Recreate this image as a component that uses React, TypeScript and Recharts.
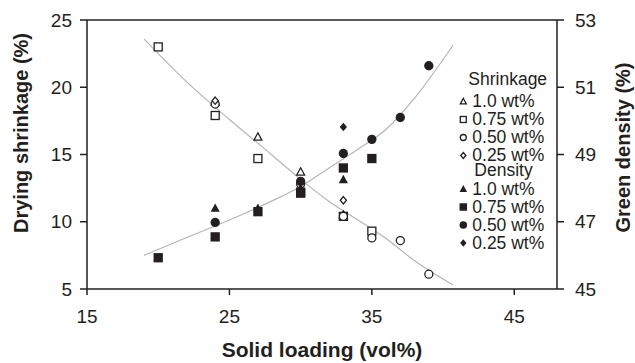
import React from 'react';
import { ComposedChart, Scatter, Line, XAxis, YAxis, Label, Legend, ReferenceLine } from 'recharts';

type Pt = { x: number; y: number };
type Kind = 'triangle' | 'square' | 'circle' | 'diamond';

// Axis ticks
const xTicks = [15, 25, 35, 45];
const shrinkageTicks = [5, 10, 15, 20, 25];
const densityTicks = [45, 47, 49, 51, 53];

// Drying shrinkage (%) vs solid loading (vol%)
const shrinkage10: Pt[] = [{ x: 24, y: 18.9 }, { x: 27, y: 16.3 }, { x: 30, y: 13.7 }, { x: 33, y: 10.5 }];
const shrinkage075: Pt[] = [{ x: 20, y: 23.0 }, { x: 24, y: 17.9 }, { x: 27, y: 14.7 }, { x: 30, y: 12.2 }, { x: 33, y: 10.4 }, { x: 35, y: 9.3 }];
const shrinkage050: Pt[] = [{ x: 24, y: 18.75 }, { x: 30, y: 12.8 }, { x: 33, y: 10.4 }, { x: 35, y: 8.8 }, { x: 37, y: 8.6 }, { x: 39, y: 6.1 }];
const shrinkage025: Pt[] = [{ x: 24, y: 19.0 }, { x: 33, y: 11.6 }];

// Green density (%) vs solid loading (vol%)
const density10: Pt[] = [{ x: 24, y: 47.4 }, { x: 27, y: 47.4 }, { x: 30, y: 48.0 }, { x: 33, y: 48.25 }];
const density075: Pt[] = [{ x: 20, y: 45.93 }, { x: 24, y: 46.55 }, { x: 27, y: 47.3 }, { x: 30, y: 47.85 }, { x: 33, y: 48.6 }, { x: 35, y: 48.88 }];
const density050: Pt[] = [{ x: 24, y: 46.98 }, { x: 30, y: 48.2 }, { x: 33, y: 49.03 }, { x: 35, y: 49.45 }, { x: 37, y: 50.1 }, { x: 39, y: 51.64 }];
const density025: Pt[] = [{ x: 33, y: 49.82 }];

// Trend curves
const shrinkageFit: Pt[] = [{ x: 19, y: 23.6 }, { x: 22, y: 20.4 }, { x: 25, y: 17.6 }, { x: 28, y: 14.95 }, { x: 30, y: 13.15 }, { x: 32, y: 11.5 }, { x: 34, y: 10.15 }, { x: 36, y: 8.75 }, { x: 38, y: 7.1 }, { x: 40.7, y: 5.3 }];
const densityFit: Pt[] = [{ x: 19, y: 46.0 }, { x: 22, y: 46.53 }, { x: 25, y: 47.05 }, { x: 28, y: 47.62 }, { x: 30, y: 48.05 }, { x: 32, y: 48.6 }, { x: 34, y: 49.15 }, { x: 36, y: 49.75 }, { x: 38, y: 50.68 }, { x: 40.7, y: 52.25 }];

const groupNames = ['Shrinkage', 'Density'];
const seriesLabels = ['1.0 wt%', '0.75 wt%', '0.50 wt%', '0.25 wt%'];

const INK = '#231f20';
const CURVE = '#b5b5b5';
const FONT = "'Liberation Sans', Arial, Helvetica, sans-serif";

interface SeriesDef { group: string; label: string; kind: Kind; filled: boolean; axis: 'left' | 'right'; data: Pt[]; size: number }

const kinds: Kind[] = ['triangle', 'square', 'circle', 'diamond'];
const sizes: Record<Kind, number> = { triangle: 9.2, square: 9.3, circle: 9.3, diamond: 8.6 };
const shrinkageData = [shrinkage10, shrinkage075, shrinkage050, shrinkage025];
const densityData = [density10, density075, density050, density025];

const seriesList: SeriesDef[] = [
  ...shrinkageData.map((d, i) => ({ group: groupNames[0], label: seriesLabels[i], kind: kinds[i], filled: false, axis: 'left' as const, data: d, size: sizes[kinds[i]] })),
  ...densityData.map((d, i) => ({ group: groupNames[1], label: seriesLabels[i], kind: kinds[i], filled: true, axis: 'right' as const, data: d, size: sizes[kinds[i]] })),
];

function Glyph({ kind, cx, cy, size, filled }: { kind: Kind; cx: number; cy: number; size: number; filled: boolean }) {
  const sw = filled ? 0 : 1.3;
  const s = filled ? size : size - sw;
  const h = s / 2;
  const common = { fill: filled ? INK : '#ffffff', stroke: filled ? 'none' : INK, strokeWidth: sw };
  if (kind === 'square') return <rect x={cx - h} y={cy - h} width={s} height={s} {...common} />;
  if (kind === 'circle') return <circle cx={cx} cy={cy} r={h} {...common} />;
  if (kind === 'diamond')
    return <polygon points={`${cx},${cy - h} ${cx + h * 0.85},${cy} ${cx},${cy + h} ${cx - h * 0.85},${cy}`} {...common} />;
  const th = s * 0.92;
  return <polygon points={`${cx},${cy - th * 0.58} ${cx + h},${cy + th * 0.42} ${cx - h},${cy + th * 0.42}`} {...common} />;
}

const makeShape = (sd: SeriesDef) => (props: any) => {
  if (props.cx == null || props.cy == null) return <g />;
  return <Glyph kind={sd.kind} cx={props.cx} cy={props.cy} size={sd.size} filled={sd.filled} />;
};

function LegendBox() {
  const headerY = [78.3, 170];
  const rowY = [[101, 119, 137, 155], [188.5, 206.5, 224.5, 242.5]];
  const headerX = [468.3, 474.3];
  const ox = 455;
  const oy = 62;
  const fs = 17.5;
  return (
    <svg width={110} height={200} style={{ display: 'block', overflow: 'visible' }}>
      {groupNames.map((g, gi) => (
        <g key={g}>
          <text x={headerX[gi] - ox} y={headerY[gi] - oy + 6.3} fontSize={fs} fontFamily={FONT} fill={INK}>{g}</text>
          {seriesList.filter((s) => s.group === g).map((s, i) => (
            <g key={s.label}>
              <Glyph kind={s.kind} cx={463.3 - ox} cy={rowY[gi][i] - oy + 0.5} size={s.filled ? 7.5 : 7.3} filled={s.filled} />
              <text x={472.3 - ox} y={rowY[gi][i] - oy + 6.3} fontSize={fs} fontFamily={FONT} fill={INK}>{s.label}</text>
            </g>
          ))}
        </g>
      ))}
    </svg>
  );
}

const titleStyle = { fontSize: 20, fontWeight: 700, fontFamily: FONT, fill: INK };

export default function App() {
  const axisStroke = { stroke: INK, strokeWidth: 1.5 };
  const tickStyle = { fill: INK, fontSize: 19, fontFamily: FONT };
  return (
    <div style={{ position: 'absolute', left: 0, top: 0, width: 635, height: 363, background: '#fff' }}>
      <ComposedChart width={635} height={363} margin={{ top: 20, right: 0, bottom: 0, left: 0 }}>
        <XAxis
          dataKey="x"
          type="number"
          domain={[15, 48]}
          ticks={xTicks}
          allowDataOverflow
          height={74}
          axisLine={axisStroke}
          tickLine={axisStroke}
          tickSize={6}
          tickMargin={15}
          tick={tickStyle}
        >
          <Label value="Solid loading (vol%)" position="insideBottom" offset={6} style={{ ...titleStyle, fontSize: 21 }} />
        </XAxis>
        <YAxis
          yAxisId="left"
          dataKey="y"
          type="number"
          domain={[5, 25]}
          ticks={shrinkageTicks}
          allowDataOverflow
          width={87}
          axisLine={axisStroke}
          tickLine={axisStroke}
          tickSize={7}
          tickMargin={8}
          tick={tickStyle}
        >
          <Label
            content={() => (
              <text x={28} y={133} transform="rotate(-90, 28, 133)" textAnchor="middle" {...titleStyle}>
                Drying shrinkage (%)
              </text>
            )}
          />
        </YAxis>
        <YAxis
          yAxisId="right"
          orientation="right"
          dataKey="y"
          type="number"
          domain={[45, 53]}
          ticks={densityTicks}
          allowDataOverflow
          width={78}
          axisLine={axisStroke}
          tickLine={axisStroke}
          tickSize={7}
          tickMargin={11}
          tick={tickStyle}
        >
          <Label
            content={() => (
              <text x={629.5} y={147.5} transform="rotate(-90, 629.5, 147.5)" textAnchor="middle" {...titleStyle}>
                Green density (%)
              </text>
            )}
          />
        </YAxis>
        <ReferenceLine yAxisId="left" y={25} stroke={INK} strokeWidth={1.5} />
        {seriesList.map((sd) => (
          <Scatter
            key={sd.group + sd.label}
            name={`${sd.group} ${sd.label}`}
            data={sd.data}
            yAxisId={sd.axis}
            shape={makeShape(sd)}
            isAnimationActive={false}
          />
        ))}
        <Line
          data={shrinkageFit}
          dataKey="y"
          yAxisId="left"
          type="monotone"
          stroke={CURVE}
          strokeWidth={1.2}
          dot={false}
          activeDot={false}
          isAnimationActive={false}
        />
        <Line
          data={densityFit}
          dataKey="y"
          yAxisId="right"
          type="monotone"
          stroke={CURVE}
          strokeWidth={1.2}
          dot={false}
          activeDot={false}
          isAnimationActive={false}
        />
        <Legend
          layout="horizontal"
          align="center"
          verticalAlign="middle"
          content={() => <LegendBox />}
          wrapperStyle={{ position: 'absolute', left: 455, top: 62, width: 110, height: 200 }}
        />
      </ComposedChart>
    </div>
  );
}
